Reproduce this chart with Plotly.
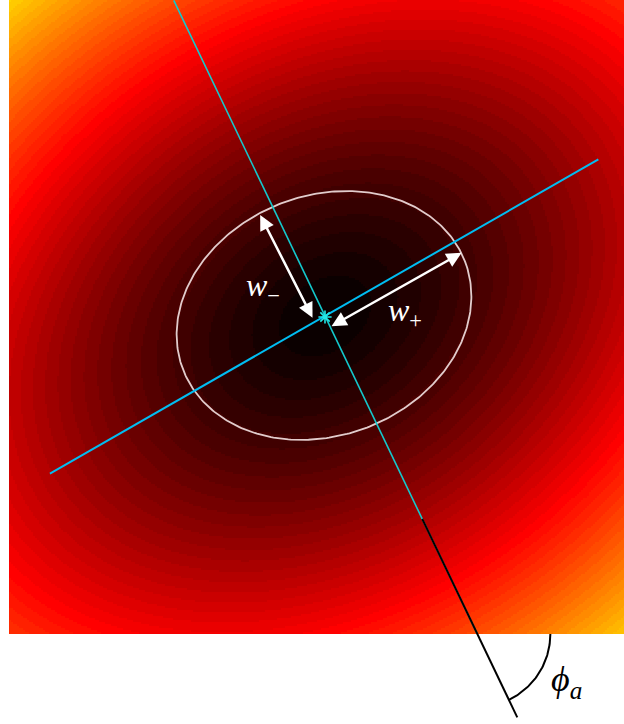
import numpy as np
import plotly.graph_objects as go

# ---- image extent (pixel units, y pointing up) ----
IMG_X = [9, 624]
IMG_Y = [0, 634]
CELL = 2

# ---- intensity field: quadratic form about the beam centre ----
FIELD_CENTER = [325.0, 318.0]
FIELD_SCALE = 316.0
Q_XX = 0.201
Q_YY = 0.262
Q_XY = -0.066
FIELD_POWER = 0.75
N_COLORS = 64

# ---- fitted beam ellipse ----
ELLIPSE_CENTER = [324.0, 318.5]
ELLIPSE_AXES = [151.0, 120.0]      # semi-axes
ELLIPSE_TILT = 21.0                # degrees

# ---- principal axes ----
AXIS_CENTER = [325.0, 318.0]
MAJOR_ANGLE = 29.8                 # degrees
MAJOR_SPAN = [-317.0, 315.0]
MINOR_ANGLE = -64.4                # degrees
MINOR_SPAN = [-350.0, 352.5]
EXTENSION_SPAN = [225.0, 445.0]    # black continuation of the minor axis
ARC_RADIUS = 73.0

# ---- width arrows: start point, direction, length ----
W_PLUS_START = [330.0, 307.0]
W_PLUS_ANGLE = 29.4
W_PLUS_LENGTH = 151.0
W_MINUS_START = [313.3, 314.7]
W_MINUS_ANGLE = 117.0
W_MINUS_LENGTH = 117.0

# ---- labels ----
LABEL_W_MINUS = "<i>w</i><sub>−</sub>"
LABEL_W_PLUS = "<i>w</i><sub>+</sub>"
LABEL_PHI = "<i>ϕ<sub>a</sub></i>"
LABEL_W_MINUS_POS = [263.0, 347.0]
LABEL_W_PLUS_POS = [405.0, 322.0]
LABEL_PHI_POS = [566.0, -47.0]

FIG_W, FIG_H = 624, 724
X_RANGE = [0, 624]
Y_RANGE = [-90, 634]


def hot_colors(n):
    k = int(3 * n / 8)
    cols = []
    for i in range(n):
        r = min((i + 1) / k, 1.0)
        g = min(max((i + 1 - k) / k, 0.0), 1.0)
        b = min(max((i + 1 - 2 * k) / (n - 2 * k), 0.0), 1.0)
        cols.append(f"rgb({round(255*r)},{round(255*g)},{round(255*b)})")
    return cols


hot = hot_colors(N_COLORS)
colorscale = []
for i, c in enumerate(hot):
    colorscale.append([i / N_COLORS, c])
    colorscale.append([(i + 1) / N_COLORS, c])

# field sampled on the cell grid, quantised to the colour table
nx = int(np.ceil((IMG_X[1] - IMG_X[0]) / CELL))
ny = int(np.ceil((IMG_Y[1] - IMG_Y[0]) / CELL))
xs = IMG_X[0] + CELL * (np.arange(nx) + 0.5)
ys = IMG_Y[0] + CELL * (np.arange(ny) + 0.5)
XX, YY = np.meshgrid(xs, ys)
u = (XX - FIELD_CENTER[0]) / FIELD_SCALE
v = (YY - FIELD_CENTER[1]) / FIELD_SCALE
q = Q_XX * u**2 + Q_YY * v**2 + 2 * Q_XY * u * v
level = np.clip(np.floor(q**FIELD_POWER * N_COLORS), 0, N_COLORS - 1).astype(int)

fig = go.Figure()
fig.add_trace(go.Heatmap(
    z=level, x0=xs[0], dx=CELL, y0=ys[0], dy=CELL,
    colorscale=colorscale, zmin=-0.5, zmax=N_COLORS - 0.5,
    showscale=False, hoverinfo="skip",
))

# beam ellipse
t = np.linspace(0, 2 * np.pi, 361)
th = np.radians(ELLIPSE_TILT)
ex = ELLIPSE_AXES[0] * np.cos(t)
ey = ELLIPSE_AXES[1] * np.sin(t)
fig.add_trace(go.Scatter(
    x=ELLIPSE_CENTER[0] + ex * np.cos(th) - ey * np.sin(th),
    y=ELLIPSE_CENTER[1] + ex * np.sin(th) + ey * np.cos(th),
    mode="lines", line=dict(color="#e2cccc", width=1.8),
    hoverinfo="skip", showlegend=False,
))


def axis_segment(angle, span):
    a = np.radians(angle)
    s = np.array(span)
    return AXIS_CENTER[0] + s * np.cos(a), AXIS_CENTER[1] + s * np.sin(a)


mx, my = axis_segment(MAJOR_ANGLE, MAJOR_SPAN)
fig.add_trace(go.Scatter(x=mx, y=my, mode="lines",
                         line=dict(color="#00bdf2", width=2),
                         hoverinfo="skip", showlegend=False))

nx_, ny_ = axis_segment(MINOR_ANGLE, MINOR_SPAN)
fig.add_trace(go.Scatter(x=nx_, y=ny_, mode="lines",
                         line=dict(color="#14c8cc", width=1.6),
                         hoverinfo="skip", showlegend=False))

bx, by = axis_segment(MINOR_ANGLE, EXTENSION_SPAN)
fig.add_trace(go.Scatter(x=bx, y=by, mode="lines",
                         line=dict(color="black", width=2),
                         hoverinfo="skip", showlegend=False))

# angle arc where the minor axis meets the lower image edge
a_min = np.radians(MINOR_ANGLE)
edge_t = (IMG_Y[0] - AXIS_CENTER[1]) / np.sin(a_min)
arc_cx = AXIS_CENTER[0] + edge_t * np.cos(a_min)
arc_cy = IMG_Y[0]
phi = np.linspace(0, a_min, 60)
fig.add_trace(go.Scatter(x=arc_cx + ARC_RADIUS * np.cos(phi),
                         y=arc_cy + ARC_RADIUS * np.sin(phi),
                         mode="lines", line=dict(color="black", width=2),
                         hoverinfo="skip", showlegend=False))

# beam centre marker
fig.add_trace(go.Scatter(x=[AXIS_CENTER[0]], y=[AXIS_CENTER[1] - 1], mode="markers",
                         marker=dict(symbol="asterisk-open", size=11, color="#22e6e6",
                                     line=dict(color="#22e6e6", width=1.6)),
                         hoverinfo="skip", showlegend=False))


def width_arrow(start, angle, length):
    a = np.radians(angle)
    end = [start[0] + length * np.cos(a), start[1] + length * np.sin(a)]
    return dict(x=end[0], y=end[1], ax=start[0], ay=start[1],
                xref="x", yref="y", axref="x", ayref="y", text="",
                showarrow=True, arrowside="end+start",
                arrowhead=2, startarrowhead=2, arrowsize=1.2, startarrowsize=1.2,
                arrowwidth=2.5, arrowcolor="white", standoff=0, startstandoff=0)


annotations = [
    width_arrow(W_PLUS_START, W_PLUS_ANGLE, W_PLUS_LENGTH),
    width_arrow(W_MINUS_START, W_MINUS_ANGLE, W_MINUS_LENGTH),
    dict(x=LABEL_W_MINUS_POS[0], y=LABEL_W_MINUS_POS[1], text=LABEL_W_MINUS,
         showarrow=False, font=dict(family="Liberation Serif", size=32, color="white")),
    dict(x=LABEL_W_PLUS_POS[0], y=LABEL_W_PLUS_POS[1], text=LABEL_W_PLUS,
         showarrow=False, font=dict(family="Liberation Serif", size=32, color="white")),
    dict(x=LABEL_PHI_POS[0], y=LABEL_PHI_POS[1], text=LABEL_PHI,
         showarrow=False, font=dict(family="Liberation Serif", size=36, color="black")),
]

fig.update_layout(
    width=FIG_W, height=FIG_H,
    margin=dict(l=0, r=0, t=0, b=0, pad=0),
    paper_bgcolor="white", plot_bgcolor="white",
    xaxis=dict(range=X_RANGE, visible=False, fixedrange=True),
    yaxis=dict(range=Y_RANGE, visible=False, fixedrange=True),
    annotations=annotations,
    showlegend=False,
)

fig.write_html("out.html", config={"displayModeBar": False})
